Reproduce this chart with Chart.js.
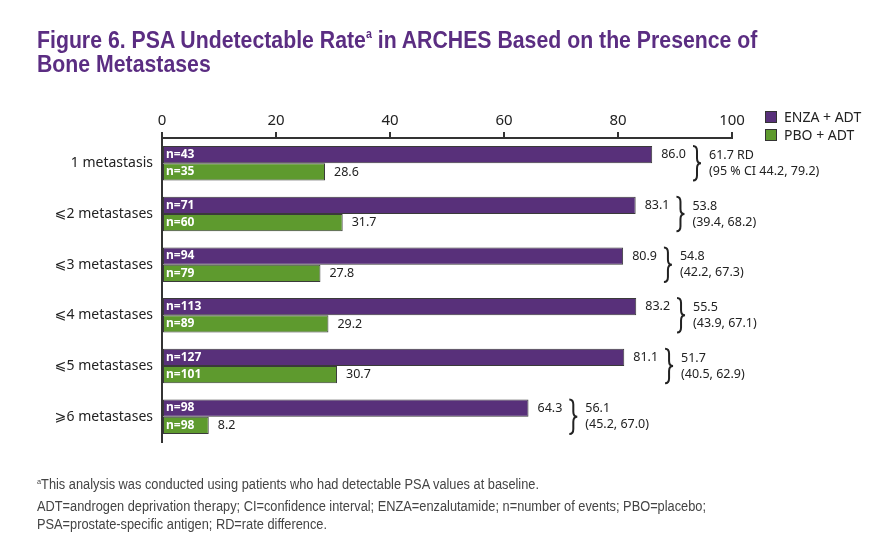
<!DOCTYPE html>
<html>
<head>
<meta charset="utf-8">
<script src="https://cdn.jsdelivr.net/npm/chart.js@4"></script>
<style>
  body { margin: 0; background: #fff; }
  #wrap { position: relative; width: 887px; height: 560px; overflow: hidden; }
  #chart { position: absolute; left: 0; top: 0; }
  .title {
    position: absolute; left: 37px; top: 28px; white-space: nowrap;
    font-family: 'Liberation Sans', Arial, sans-serif;
    font-weight: bold; font-size: 24px; line-height: 24px; color: #5b2d82;
    transform: scaleX(0.886); transform-origin: left top;
  }
  .title sup { font-size: 12px; vertical-align: 10px; line-height: 0; }
  .legend { position: absolute; left: 765px; top: 108px; font-family: 'Noto Sans', sans-serif; font-size: 14px; color: #222; }
  .legend div { height: 18px; line-height: 18px; display: flex; align-items: center; }
  .legend span.sw { width: 10px; height: 10px; border: 1px solid #333; margin-right: 7px; display: inline-block; }
  .foot {
    position: absolute; left: 37px; top: 475px; white-space: nowrap;
    font-family: 'Liberation Sans', Arial, sans-serif;
    font-size: 14px; color: #444; line-height: 18px;
    transform: scaleX(0.914); transform-origin: left top;
  }
  .foot sup { font-size: 8px; vertical-align: 5px; line-height: 0; }
</style>
</head>
<body>
<div id="wrap">
  <canvas id="chart" width="887" height="560"></canvas>
  <div class="title">Figure 6. PSA Undetectable Rate<sup>a</sup> in ARCHES Based on the Presence of<br>Bone Metastases</div>
  <div class="legend">
    <div><span class="sw" style="background:#58307a"></span>ENZA + ADT</div>
    <div><span class="sw" style="background:#5e9a2e"></span>PBO + ADT</div>
  </div>
  <div class="foot">
    <div><sup>a</sup>This analysis was conducted using patients who had detectable PSA values at baseline.</div>
    <div style="margin-top:4px">ADT=androgen deprivation therapy; CI=confidence interval; ENZA=enzalutamide; n=number of events; PBO=placebo;</div>
    <div>PSA=prostate-specific antigen; RD=rate difference.</div>
  </div>
</div>
<script>
// Data
const categories = ['1 metastasis', '⩽2 metastases', '⩽3 metastases', '⩽4 metastases', '⩽5 metastases', '⩾6 metastases'];
const enzaValues = [86.0, 83.1, 80.9, 83.2, 81.1, 64.3];
const pboValues = [28.6, 31.7, 27.8, 29.2, 30.7, 8.2];
const enzaN = [43, 71, 94, 113, 127, 98];
const pboN = [35, 60, 79, 89, 101, 98];
const rdLabels = ['61.7 RD', '53.8', '54.8', '55.5', '51.7', '56.1'];
const ciLabels = ['(95 % CI 44.2, 79.2)', '(39.4, 68.2)', '(42.2, 67.3)', '(43.9, 67.1)', '(40.5, 62.9)', '(45.2, 67.0)'];
const xTicks = [0, 20, 40, 60, 80, 100];

const FONT = "'Noto Sans', 'DejaVu Sans', sans-serif";

// draws n= labels, values, braces and RD text
const annotations = {
    id: 'annotations',
    afterDatasetsDraw(chart) {
        const ctx = chart.ctx;
        const enzaMeta = chart.getDatasetMeta(0);
        const pboMeta = chart.getDatasetMeta(1);
        const nLists = [enzaN, pboN];
        const valLists = [enzaValues, pboValues];
        ctx.save();
        ctx.textBaseline = 'middle';
        [enzaMeta, pboMeta].forEach((meta, d) => {
            meta.data.forEach((bar, i) => {
                ctx.font = 'bold 12px ' + FONT;
                ctx.fillStyle = '#fff';
                ctx.textAlign = 'left';
                ctx.fillText('n=' + nLists[d][i], bar.base + 3, bar.y);
                ctx.font = '12.5px ' + FONT;
                ctx.fillStyle = '#222';
                ctx.fillText(valLists[d][i].toFixed(1), bar.x + 9, bar.y);
            });
        });

        enzaMeta.data.forEach((bar, i) => {
            const low = pboMeta.data[i];
            const top = bar.y - bar.height / 2;
            const bottom = low.y + low.height / 2;
            const mid = (top + bottom) / 2;
            ctx.font = '12.5px ' + FONT;
            const w = ctx.measureText(enzaValues[i].toFixed(1)).width;
            const bx = bar.x + 9 + w + 7;
            ctx.strokeStyle = '#222';
            ctx.lineWidth = 2;
            ctx.beginPath();
            ctx.moveTo(bx, top);
            ctx.quadraticCurveTo(bx + 4, top, bx + 4, top + 5);
            ctx.lineTo(bx + 4, mid - 5);
            ctx.quadraticCurveTo(bx + 4, mid, bx + 8, mid);
            ctx.quadraticCurveTo(bx + 4, mid, bx + 4, mid + 5);
            ctx.lineTo(bx + 4, bottom - 5);
            ctx.quadraticCurveTo(bx + 4, bottom, bx, bottom);
            ctx.stroke();
            ctx.fillStyle = '#222';
            ctx.textAlign = 'left';
            ctx.fillText(rdLabels[i], bx + 16, mid - 8);
            ctx.fillText(ciLabels[i], bx + 16, mid + 8);
        });
        ctx.restore();
    }
};

new Chart(document.getElementById('chart'), {
    type: 'bar',
    data: {
        labels: categories,
        datasets: [
            {
                label: 'ENZA + ADT',
                data: enzaValues,
                backgroundColor: '#58307a',
                borderColor: '#3a3a3a',
                borderWidth: 1,
                borderSkipped: false,
                categoryPercentage: 0.68,
                barPercentage: 1.0
            },
            {
                label: 'PBO + ADT',
                data: pboValues,
                backgroundColor: '#5e9a2e',
                borderColor: '#3a3a3a',
                borderWidth: 1,
                borderSkipped: false,
                categoryPercentage: 0.68,
                barPercentage: 1.0
            }
        ]
    },
    options: {
        indexAxis: 'y',
        responsive: false,
        animation: false,
        layout: { padding: { left: 0, top: 0, right: 155, bottom: 118 } },
        plugins: {
            legend: { display: false },
            tooltip: { enabled: false }
        },
        scales: {
            x: {
                position: 'top',
                min: 0,
                max: 100,
                afterBuildTicks: (scale) => { scale.ticks = xTicks.map(v => ({ value: v })); },
                afterFit: (scale) => { scale.height = 138; },
                grid: { drawOnChartArea: false, drawTicks: true, tickLength: 6, color: '#333', lineWidth: 2 },
                border: { display: true, color: '#333', width: 2 },
                ticks: { color: '#222', font: { family: FONT, size: 15 }, padding: 2 }
            },
            y: {
                afterFit: (scale) => { scale.width = 162; },
                grid: { drawOnChartArea: false, drawTicks: false, tickLength: 0 },
                border: { display: true, color: '#333', width: 2 },
                ticks: { color: '#222', font: { family: FONT, size: 14 }, padding: 9 }
            }
        }
    },
    plugins: [annotations]
});
</script>
</body>
</html>
